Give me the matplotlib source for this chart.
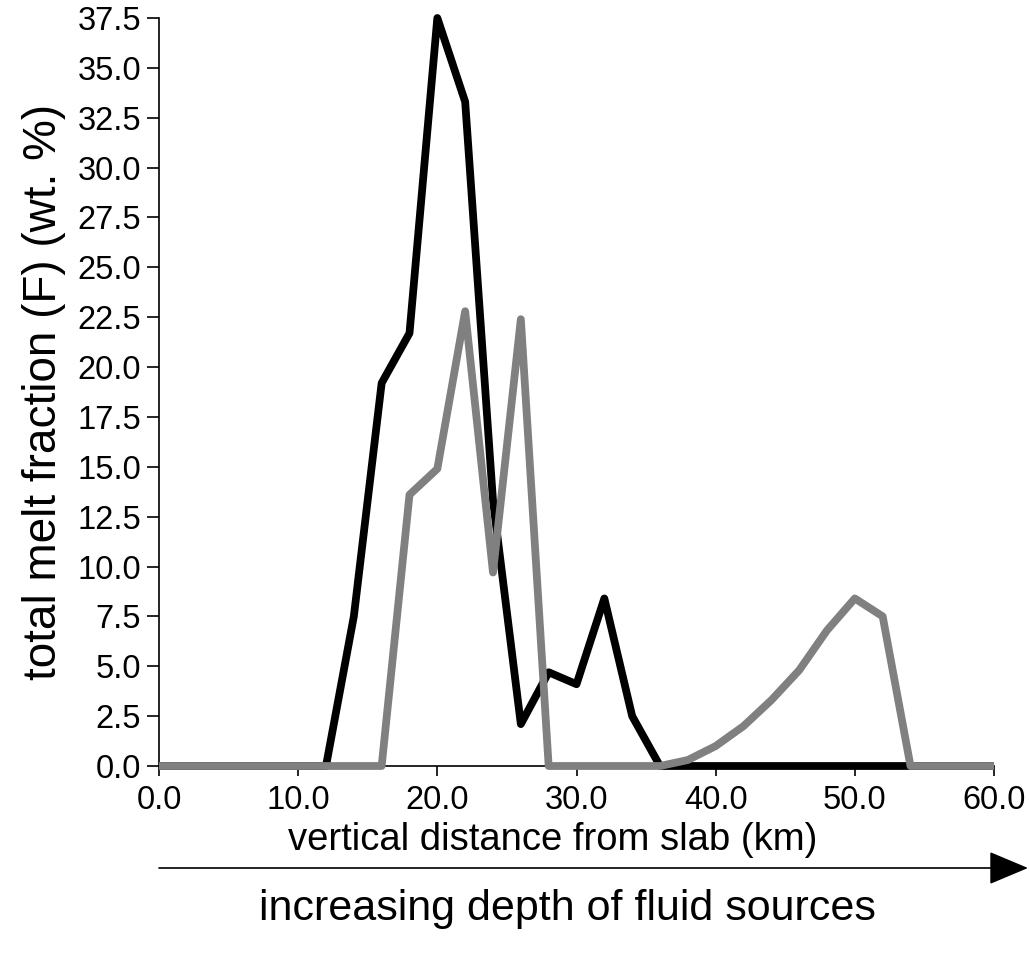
import matplotlib
matplotlib.use("Agg")
import matplotlib.pyplot as plt
import numpy as np

plt.rcParams['font.family'] = ['Liberation Sans', 'DejaVu Sans']

distance_km = list(range(0, 62, 2))
melt_black = [0, 0, 0, 0, 0, 0, 0, 7.5, 19.2, 21.7, 37.5, 33.3, 13.3, 2.1, 4.7,
              4.1, 8.4, 2.5, 0, 0, 0, 0, 0, 0, 0, 0, 0, 0, 0, 0, 0]
melt_gray = [0, 0, 0, 0, 0, 0, 0, 0, 0, 13.6, 14.9, 22.8, 9.7, 22.4, 0,
             0, 0, 0, 0, 0.3, 1.0, 2.0, 3.3, 4.8, 6.8, 8.4, 7.5, 0, 0, 0, 0]

x_ticks = [0, 10, 20, 30, 40, 50, 60]
y_ticks = [0, 2.5, 5, 7.5, 10, 12.5, 15, 17.5, 20, 22.5, 25, 27.5, 30, 32.5, 35, 37.5]

fig = plt.figure(figsize=(10.30, 9.60), dpi=100)
ax = fig.add_axes([159/1030, 1 - 766/960, (994 - 159)/1030, (766 - 18)/960])

ax.plot(distance_km, melt_black, color='black', lw=5.6, solid_joinstyle='round',
        solid_capstyle='butt', clip_on=False, zorder=3)
ax.plot(distance_km, melt_gray, color='#808080', lw=5.6, solid_joinstyle='round',
        solid_capstyle='butt', clip_on=False, zorder=4)

ax.set_xlim(0, 60)
ax.set_ylim(0, 37.5)
ax.set_xticks(x_ticks)
ax.set_xticklabels([f"{v:.1f}" for v in x_ticks])
ax.set_yticks(y_ticks)
ax.set_yticklabels([f"{v:.1f}" for v in y_ticks])
for s in ['top', 'right']:
    ax.spines[s].set_visible(False)
for s in ['left', 'bottom']:
    ax.spines[s].set_linewidth(1.2)
ax.tick_params(axis='both', direction='out', width=1.2, labelsize=23.5)
ax.tick_params(axis='y', length=8.5, pad=4.5)
ax.tick_params(axis='x', length=7.5, pad=6)

ax.set_xlabel('vertical distance from slab (km)', fontsize=27.5)
ax.xaxis.set_label_coords((553 - 159) / (994 - 159), -(840 - 766) / (766 - 18))
ax.xaxis.label.set_va('center')
ax.set_ylabel('total melt fraction (F) (wt. %)', fontsize=33, labelpad=8)

# arrow below the axis
fig.patches.append(matplotlib.patches.FancyArrowPatch(
    (159/1030, 1 - 868/960), (1028/1030, 1 - 868/960), transform=fig.transFigure,
    arrowstyle='-|>,head_length=2.5,head_width=1.05', mutation_scale=10,
    color='black', lw=1.2, shrinkA=0, shrinkB=0))
fig.text(567/1030, 1 - 909/960, 'increasing depth of fluid sources',
         ha='center', va='center', fontsize=31)

fig.savefig('out.png', dpi=100)
